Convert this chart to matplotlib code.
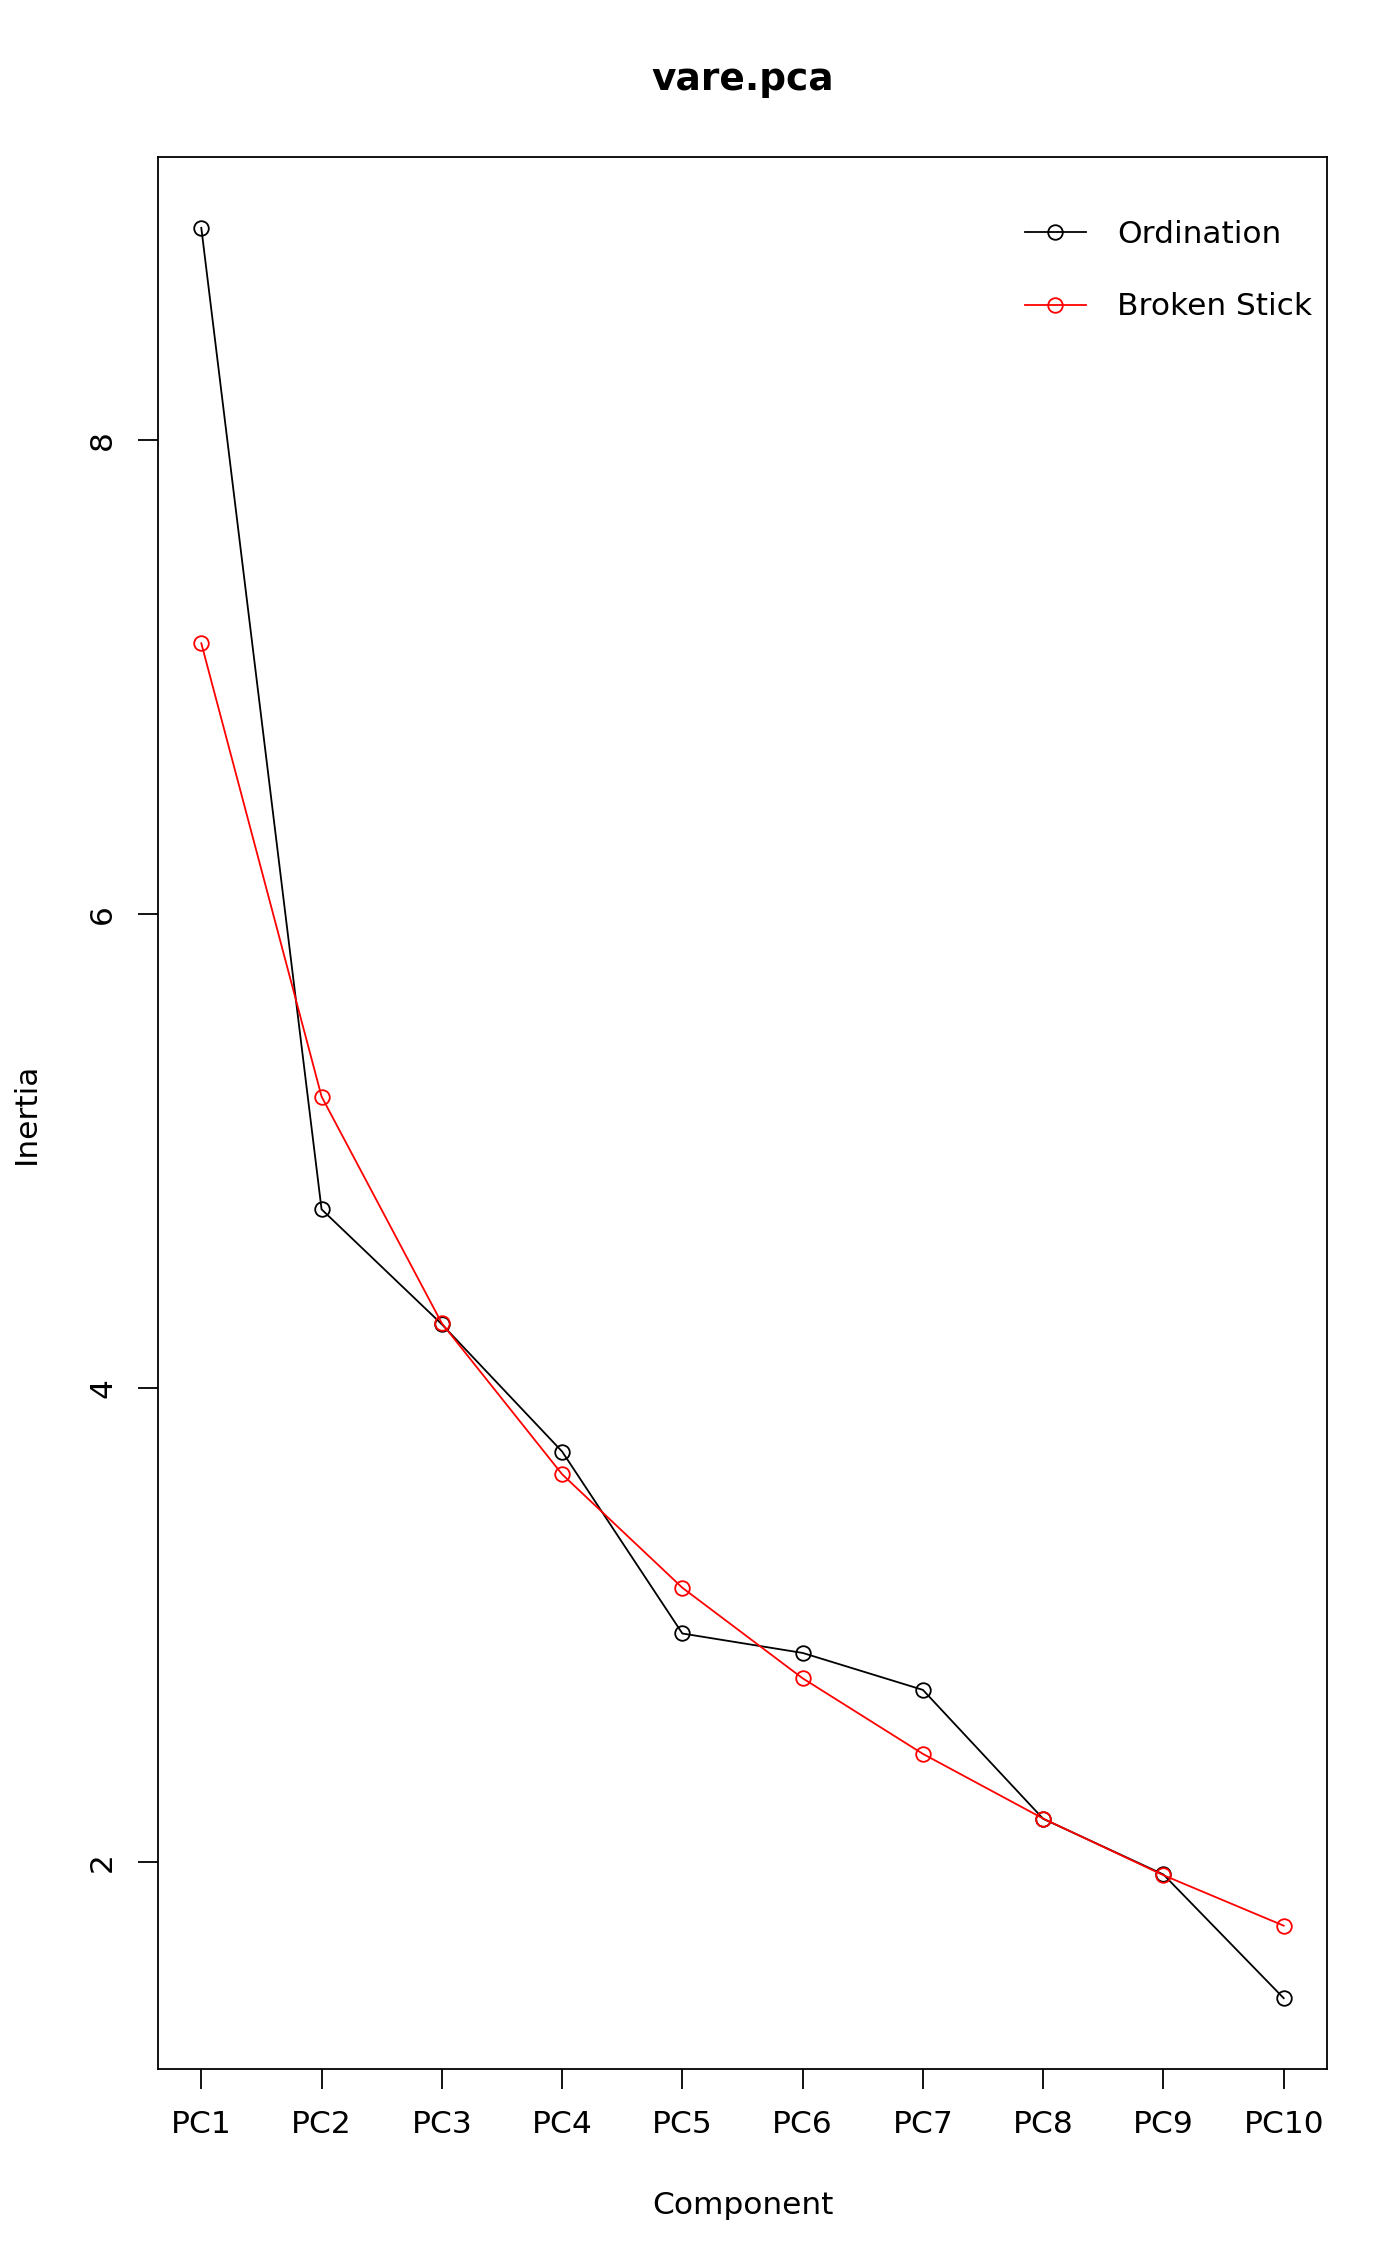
import matplotlib

matplotlib.use("Agg")
import matplotlib.pyplot as plt
import numpy as np

# eigenvalues
components = ["PC1", "PC2", "PC3", "PC4", "PC5", "PC6", "PC7", "PC8", "PC9", "PC10"]
ordination = [8.897, 4.755, 4.270, 3.733, 2.965, 2.883, 2.727, 2.183, 1.948, 1.426]
broken_stick = [7.144, 5.231, 4.274, 3.637, 3.158, 2.776, 2.457, 2.184, 1.945, 1.732]
y_ticks = [2, 4, 6, 8]

W, H, DPI = 1400, 2266, 100
FS = 22.5

plt.rcParams["font.family"] = "DejaVu Sans"

fig = plt.figure(figsize=(W / DPI, H / DPI), dpi=DPI)
left, right, top, bottom = 158, 1327, 157, 2069
ax = fig.add_axes([left / W, 1 - bottom / H, (right - left) / W, (bottom - top) / H])

x = np.arange(1, len(components) + 1)
ax.plot(x, ordination, color="black", lw=1.3, marker="o", ms=10.5,
        mfc="none", mec="black", mew=1.3, label="Ordination")
ax.plot(x, broken_stick, color="red", lw=1.3, marker="o", ms=10.5,
        mfc="none", mec="red", mew=1.3, label="Broken Stick")

# R style axis extension (4%)
lo = min(min(ordination), min(broken_stick))
hi = max(max(ordination), max(broken_stick))
pad = 0.04 * (hi - lo)
ax.set_ylim(lo - pad, hi + pad)
ax.set_xlim(1 - 0.04 * 9, 10 + 0.04 * 9)

ax.set_xticks(x)
ax.set_xticklabels(components, fontsize=FS)
ax.set_yticks(y_ticks)
ax.set_yticklabels([str(t) for t in y_ticks], fontsize=FS, rotation=90, va="center")
ax.tick_params(axis="both", length=14.5, width=1.3, direction="out")
ax.tick_params(axis="x", pad=15)
ax.tick_params(axis="y", pad=15)
for sp in ax.spines.values():
    sp.set_linewidth(1.3)

# R centres title and axis labels on the plot region
cx = (left + right) / 2 / W
cy = 1 - (top + bottom) / 2 / H
fig.text(cx, 1 - 80 / H, "vare.pca", ha="center", va="center",
         fontsize=FS * 1.2, fontweight="bold")
fig.text(cx, 1 - 2205 / H, "Component", ha="center", va="center", fontsize=FS)
fig.text(26 / W, cy, "Inertia", ha="center", va="center", rotation=90, fontsize=FS)

ax.legend(loc="upper left", bbox_to_anchor=(1025 / W, 1 - 220 / H),
          bbox_transform=fig.transFigure, frameon=False, fontsize=FS,
          handlelength=1.95, handletextpad=1.0, labelspacing=1.39,
          borderpad=0, borderaxespad=0)

fig.savefig("out.png", dpi=DPI)
